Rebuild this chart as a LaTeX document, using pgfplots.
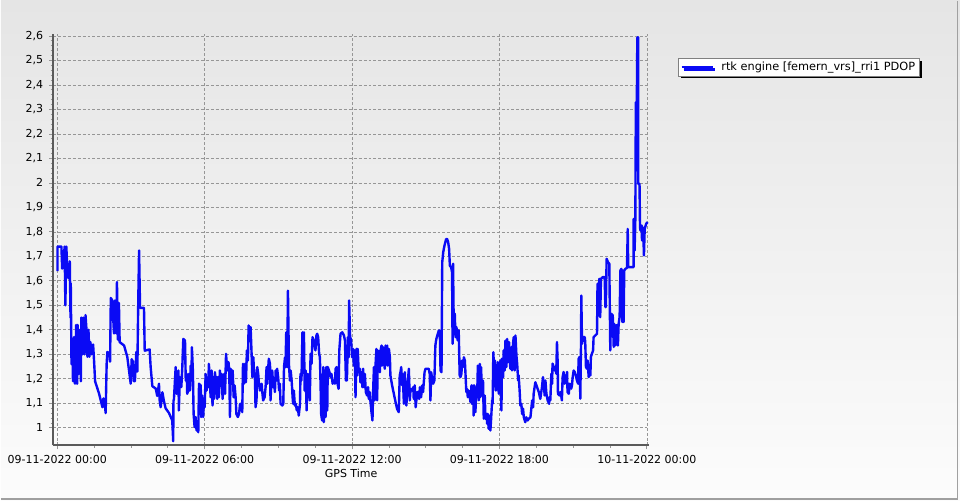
\documentclass[border=0pt]{standalone}
\usepackage{pgfplots}
\pgfplotsset{compat=1.18}
\usepackage{pgfplotstable}
\usepackage{fontspec}
\setmainfont{DejaVu Sans}
\usetikzlibrary{shadows}
\definecolor{bgtop}{RGB}{229,229,229}
\definecolor{bgbot}{RGB}{252,252,252}
\definecolor{axgray}{RGB}{90,90,90}
\definecolor{gridgray}{RGB}{150,150,150}
\definecolor{linblue}{RGB}{10,10,245}
\pgfplotstableread{
h v
0.01 1.64
0.01 1.74
0.17 1.74
0.20 1.65
0.25 1.67
0.30 1.74
0.33 1.50
0.37 1.74
0.41 1.64
0.47 1.61
0.51 1.68
0.54 1.45
0.55 1.59
0.58 1.26
0.62 1.34
0.64 1.19
0.68 1.37
0.72 1.18
0.77 1.42
0.81 1.18
0.83 1.42
0.87 1.22
0.92 1.40
0.96 1.19
0.98 1.45
1.02 1.30
1.06 1.45
1.11 1.30
1.15 1.46
1.19 1.40
1.23 1.29
1.27 1.40
1.31 1.29
1.35 1.35
1.39 1.30
1.46 1.34
1.50 1.27
1.54 1.19
1.70 1.14
1.84 1.084
1.88 1.12
1.93 1.105
1.97 1.06
2.01 1.26
2.04 1.31
2.13 1.30
2.15 1.27
2.18 1.53
2.24 1.52
2.31 1.385
2.35 1.52
2.41 1.385
2.43 1.595
2.47 1.36
2.51 1.51
2.54 1.35
2.72 1.336
2.85 1.29
2.99 1.18
3.03 1.28
3.08 1.27
3.12 1.19
3.16 1.19
3.22 1.31
3.26 1.23
3.29 1.47
3.33 1.724
3.37 1.49
3.53 1.49
3.56 1.315
3.76 1.32
3.80 1.25
3.87 1.17
4.01 1.16
4.07 1.13
4.14 1.18
4.17 1.11
4.21 1.084
4.28 1.145
4.34 1.11
4.41 1.08
4.55 1.06
4.68 1.03
4.72 0.945
4.73 1.11
4.75 1.118
4.82 1.248
4.86 1.139
4.93 1.234
4.95 1.071
4.99 1.207
5.05 1.166
5.09 1.248
5.13 1.363
5.20 1.356
5.23 1.193
5.27 1.220
5.29 1.139
5.33 1.152
5.36 1.220
5.40 1.152
5.43 1.254
5.46 1.193
5.48 1.329
5.52 1.234
5.55 1.057
5.59 1.003
5.63 1.044
5.67 0.989
5.70 1.003
5.74 0.982
5.77 1.180
5.84 1.173
5.86 1.044
5.90 1.132
5.94 1.044
5.97 1.112
6.00 1.084
6.04 1.220
6.08 1.152
6.11 1.193
6.15 1.166
6.17 1.261
6.22 1.193
6.24 1.125
6.28 1.234
6.32 1.091
6.35 1.207
6.38 1.118
6.42 1.227
6.46 1.139
6.49 1.207
6.51 1.118
6.54 1.207
6.58 1.125
6.62 1.234
6.65 1.180
6.69 1.220
6.73 1.118
6.76 1.166
6.79 1.220
6.83 1.139
6.87 1.302
6.89 1.275
6.93 1.234
6.97 1.268
7.00 1.234
7.03 1.044
7.06 1.241
7.10 1.207
7.14 1.234
7.18 1.125
7.22 1.173
7.26 1.125
7.29 1.057
7.35 1.044
7.40 1.057
7.44 1.098
7.50 1.098
7.53 1.064
7.56 1.261
7.60 1.180
7.64 1.261
7.68 1.186
7.72 1.316
7.76 1.275
7.79 1.418
7.83 1.397
7.87 1.411
7.91 1.302
7.94 1.207
7.98 1.288
8.00 1.248
8.05 1.193
8.07 1.084
8.11 1.112
8.14 1.248
8.18 1.220
8.21 1.180
8.25 1.152
8.28 1.166
8.32 1.180
8.34 1.152
8.38 1.112
8.44 1.125
8.48 1.166
8.52 1.248
8.55 1.180
8.59 1.248
8.61 1.282
8.66 1.261
8.68 1.112
8.72 1.193
8.75 1.234
8.79 1.166
8.82 1.193
8.86 1.146
8.89 1.234
8.93 1.193
8.95 1.241
8.99 1.207
9.03 1.152
9.06 1.180
9.09 1.098
9.16 1.091
9.20 1.098
9.23 1.248
9.27 1.288
9.29 1.248
9.32 1.390
9.36 1.248
9.39 1.560
9.43 1.261
9.47 1.193
9.50 1.234
9.54 1.193
9.58 1.125
9.60 1.098
9.63 1.152
9.67 1.091
9.71 1.098
9.75 1.071
9.79 1.084
9.83 1.050
9.88 1.098
9.90 1.220
9.94 1.193
9.98 1.390
10.01 1.316
10.04 1.390
10.07 1.152
10.11 1.234
10.15 1.071
10.19 1.220
10.23 1.125
10.26 1.220
10.28 1.112
10.31 1.302
10.35 1.261
10.39 1.370
10.45 1.356
10.51 1.316
10.55 1.377
10.58 1.384
10.62 1.370
10.66 1.302
10.69 1.288
10.72 1.166
10.74 1.057
10.78 1.030
10.83 1.248
10.85 1.023
10.88 1.234
10.92 1.044
10.95 1.248
10.99 1.071
11.01 1.248
11.06 1.234
11.10 1.220
11.12 1.207
11.16 1.220
11.21 1.180
11.26 1.193
11.30 1.180
11.33 1.241
11.37 1.248
11.41 1.180
11.45 1.159
11.48 1.316
11.53 1.384
11.60 1.390
11.67 1.377
11.71 1.356
11.75 1.193
11.79 1.193
11.83 1.370
11.86 1.288
11.88 1.520
11.92 1.370
11.96 1.360
12.00 1.288
12.04 1.322
12.07 1.254
12.11 1.316
12.14 1.125
12.18 1.322
12.21 1.214
12.23 1.322
12.27 1.227
12.32 1.241
12.34 1.186
12.38 1.227
12.42 1.166
12.45 1.241
12.48 1.166
12.52 1.220
12.56 1.146
12.61 1.132
12.65 1.166
12.68 1.118
12.72 1.146
12.75 1.105
12.79 1.064
12.83 1.030
12.86 1.159
12.89 1.248
12.91 1.112
12.95 1.248
12.99 1.322
13.02 1.112
13.05 1.316
13.09 1.282
13.13 1.227
13.16 1.316
13.20 1.336
13.22 1.254
13.26 1.329
13.29 1.295
13.33 1.241
13.36 1.336
13.40 1.309
13.43 1.336
13.45 1.254
13.50 1.322
13.54 1.288
13.56 1.214
13.63 1.173
13.70 1.139
13.77 1.105
13.83 1.078
13.90 1.064
13.94 1.214
13.97 1.227
14.00 1.248
14.04 1.173
14.06 1.220
14.11 1.098
14.15 1.227
14.17 1.146
14.21 1.091
14.25 1.159
14.31 1.241
14.35 1.112
14.38 1.159
14.44 1.152
14.49 1.166
14.51 1.118
14.55 1.173
14.59 1.084
14.65 1.146
14.69 1.146
14.73 1.118
14.76 1.166
14.81 1.125
14.85 1.173
14.89 1.146
14.95 1.227
14.99 1.241
15.05 1.241
15.12 1.241
15.16 1.220
15.19 1.112
15.22 1.227
15.26 1.200
15.30 1.180
15.35 1.193
15.39 1.336
15.43 1.363
15.49 1.384
15.53 1.397
15.57 1.397
15.60 1.234
15.64 1.227
15.67 1.676
15.71 1.717
15.76 1.744
15.83 1.771
15.87 1.771
15.91 1.758
15.95 1.730
15.98 1.662
16.03 1.656
16.07 1.635
16.09 1.343
16.11 1.670
16.14 1.398
16.18 1.466
16.21 1.370
16.25 1.411
16.27 1.377
16.30 1.357
16.34 1.398
16.38 1.214
16.41 1.207
16.45 1.220
16.48 1.275
16.52 1.248
16.55 1.288
16.59 1.275
16.61 1.234
16.65 1.146
16.68 1.159
16.71 1.125
16.75 1.152
16.79 1.125
16.82 1.105
16.86 1.173
16.88 1.098
16.93 1.173
16.95 1.050
16.98 1.173
17.02 1.064
17.06 1.166
17.09 1.125
17.12 1.254
17.16 1.112
17.20 1.261
17.22 1.125
17.25 1.248
17.29 1.132
17.33 1.193
17.36 1.037
17.40 1.132
17.43 1.037
17.47 1.057
17.50 1.016
17.52 1.057
17.56 0.996
17.60 1.050
17.63 0.989
17.66 1.037
17.70 1.112
17.72 1.098
17.75 1.309
17.78 1.234
17.81 1.275
17.85 1.152
17.87 1.248
17.90 1.180
17.93 1.268
17.97 1.139
18.01 1.193
18.04 1.275
18.08 1.071
18.10 1.282
18.15 1.207
18.17 1.316
18.21 1.234
18.24 1.356
18.28 1.248
18.31 1.363
18.35 1.268
18.39 1.350
18.44 1.241
18.48 1.329
18.51 1.234
18.55 1.343
18.58 1.370
18.62 1.234
18.65 1.377
18.69 1.295
18.72 1.261
18.76 1.193
18.78 1.214
18.82 1.152
18.85 1.091
18.89 1.098
18.92 1.057
18.96 1.078
18.99 1.043
19.05 1.023
19.09 1.043
19.15 1.030
19.19 1.037
19.26 1.043
19.33 1.112
19.37 1.084
19.39 1.139
19.46 1.186
19.53 1.166
19.60 1.146
19.66 1.118
19.73 1.166
19.77 1.207
19.80 1.180
19.84 1.132
19.87 1.193
19.91 1.139
19.96 1.112
20.02 1.098
20.04 1.126
20.07 1.112
20.11 1.221
20.14 1.180
20.16 1.262
20.21 1.248
20.25 1.234
20.27 1.248
20.31 1.221
20.34 1.350
20.37 1.262
20.38 1.139
20.44 1.132
20.48 1.146
20.52 1.126
20.54 1.112
20.57 1.207
20.61 1.228
20.65 1.180
20.71 1.200
20.75 1.228
20.77 1.146
20.82 1.139
20.86 1.180
20.88 1.173
20.92 1.160
20.95 1.173
20.98 1.207
21.02 1.234
21.06 1.228
21.11 1.214
21.15 1.194
21.20 1.180
21.22 1.282
21.26 1.289
21.29 1.119
21.32 1.357
21.33 1.540
21.36 1.343
21.40 1.370
21.47 1.370
21.49 1.350
21.52 1.248
21.56 1.241
21.59 1.275
21.63 1.207
21.66 1.248
21.70 1.214
21.72 1.289
21.76 1.302
21.81 1.316
21.83 1.370
21.90 1.377
21.97 1.384
21.99 1.588
22.04 1.459
22.06 1.608
22.10 1.452
22.13 1.608
22.20 1.615
22.28 1.615
22.31 1.493
22.33 1.493
22.36 1.690
22.42 1.676
22.47 1.670
22.51 1.316
22.54 1.466
22.61 1.459
22.65 1.330
22.67 1.425
22.71 1.336
22.74 1.418
22.80 1.418
22.82 1.336
22.85 1.425
22.89 1.452
22.92 1.642
22.96 1.649
23.00 1.432
23.03 1.642
23.05 1.432
23.08 1.642
23.12 1.649
23.19 1.653
23.22 1.812
23.24 1.656
23.46 1.656
23.46 1.853
23.50 1.724
23.53 1.853
23.55 2.329
23.59 2.329
23.61 2.594
23.65 2.594
23.65 1.996
23.70 1.996
23.72 1.819
23.74 1.805
23.79 1.826
23.80 1.765
23.83 1.819
23.85 1.805
23.88 1.704
23.91 1.812
23.93 1.819
23.97 1.833
24.03 1.840
}\pdop
\begin{document}
\begin{tikzpicture}[x=0.75pt,y=0.75pt]
\shade[top color=bgtop, bottom color=bgbot] (0,0) rectangle (960,500);
\draw[color={rgb,255:red,160;green,160;blue,160}, line width=1.2pt] (0,1.2) -- (957.5,1.2) -- (957.5,500);
\begin{axis}[
  at={(39.225pt,41.25pt)}, anchor=south west,
  scale only axis, width=447.5pt, height=309pt,
  xmin=-0.171, xmax=24.095, ymin=0.928, ymax=2.609,
  axis x line*=bottom, axis y line*=left,
  axis line style={-, draw=axgray, line width=1.5pt},
  tick align=outside,
  major tick length=3pt, minor tick length=1.8pt,
  every tick/.style={draw=gridgray, line width=0.6pt},
  xtick={0,6,12,18,24},
  xticklabels={09-11-2022 00:00,09-11-2022 06:00,09-11-2022 12:00,09-11-2022 18:00,10-11-2022 00:00},
  minor x tick num=3,
  ytick={1,1.1,1.2,1.3,1.4,1.5,1.6,1.7,1.8,1.9,2,2.1,2.2,2.3,2.4,2.5,2.6},
  minor y tick num=4,
  grid=major,
  major grid style={dash pattern=on 2.2pt off 1.5pt, draw=gridgray, line width=0.55pt},
  /pgf/number format/.cd, use comma, 1000 sep={}, assume math mode=true,
  /pgfplots/.cd,
  tick label style={font=\fontsize{8.25}{10}\selectfont, text=black},
  xticklabel style={yshift=-1pt},
  yticklabel style={xshift=-1pt},
  xlabel={GPS Time},
  xlabel style={font=\fontsize{8.25}{10}\selectfont, yshift=2.5pt},
  legend style={at={(1,1)}, anchor=north west, xshift=21.75pt, yshift=-18.2pt,
    draw={rgb,255:red,128;green,128;blue,128}, fill=white, line width=0.6pt,
    font=\fontsize{8.5}{9.5}\selectfont, inner xsep=1.5pt, inner ysep=0.6pt,
    drop shadow={shadow xshift=1.6pt, shadow yshift=-1.6pt, fill=black, opacity=1}},
  legend cell align=left,
  legend image code/.code={\draw[#1, line width=1.4pt] (2pt,0pt) -- (25.5pt,0pt); \path (29pt,0pt);},
]
\addplot[color=linblue, line width=1.8pt, line join=round, mark=none] table[x=h, y=v] {\pdop};
\addlegendentry{rtk engine [femern\_vrs]\_rri1 PDOP\hspace{7pt}}
\end{axis}
\end{tikzpicture}
\end{document}
